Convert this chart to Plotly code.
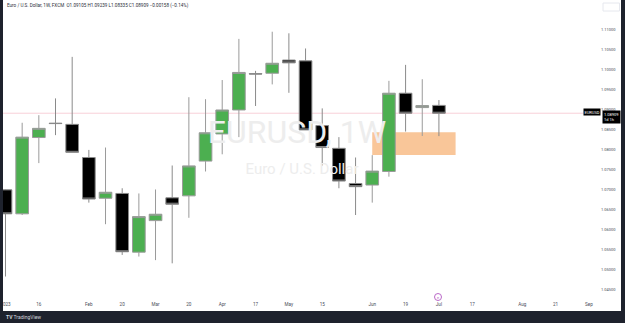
import pandas as pd
import plotly.graph_objects as go

# ---------------- data ----------------
weeks = ["2023-01-02", "2023-01-09", "2023-01-16", "2023-01-23", "2023-01-30",
         "2023-02-06", "2023-02-13", "2023-02-20", "2023-02-27", "2023-03-06",
         "2023-03-13", "2023-03-20", "2023-03-27", "2023-04-03", "2023-04-10",
         "2023-04-17", "2023-04-24", "2023-05-01", "2023-05-08", "2023-05-15",
         "2023-05-22", "2023-05-29", "2023-06-05", "2023-06-12", "2023-06-19",
         "2023-06-26", "2023-07-03"]
open_ = [1.0699, 1.0639, 1.0830, 1.0866, 1.0863, 1.0780, 1.0678, 1.0690, 1.0543, 1.0622,
         1.0679, 1.0684, 1.0771, 1.0839, 1.0899, 1.0990, 1.0991, 1.1024, 1.1022, 1.0860,
         1.0803, 1.0715, 1.0711, 1.0745, 1.0941, 1.0905, 1.09105]
high = [1.0700, 1.0867, 1.0886, 1.0928, 1.1032, 1.0799, 1.0805, 1.0703, 1.0690, 1.0700,
        1.0760, 1.0931, 1.0926, 1.0974, 1.1077, 1.0997, 1.1095, 1.1091, 1.1053, 1.0903,
        1.0831, 1.0780, 1.0786, 1.0972, 1.1012, 1.0976, 1.09239]
low = [1.0482, 1.0636, 1.0766, 1.0836, 1.0793, 1.0667, 1.0613, 1.0536, 1.0532, 1.0523,
       1.0515, 1.0629, 1.0745, 1.0788, 1.0831, 1.0909, 1.0963, 1.0942, 1.0849, 1.0760,
       1.0703, 1.0636, 1.0667, 1.0732, 1.0845, 1.0834, 1.08335]
close = [1.0639, 1.0831, 1.0853, 1.0865, 1.0793, 1.0676, 1.0693, 1.0544, 1.0632, 1.0638,
         1.0663, 1.0759, 1.0842, 1.0899, 1.0993, 1.0989, 1.1016, 1.1017, 1.0849, 1.0805,
         1.0721, 1.0707, 1.0746, 1.0941, 1.0891, 1.0910, 1.08909]

tick_dates = ["2023-01-02", "2023-01-16", "2023-02-06", "2023-02-20", "2023-03-06",
              "2023-03-20", "2023-04-03", "2023-04-17", "2023-05-01", "2023-05-15",
              "2023-06-05", "2023-06-19", "2023-07-03", "2023-07-17", "2023-08-07",
              "2023-08-21", "2023-09-04"]
tick_text = ["2023", "16", "Feb", "20", "Mar", "20", "Apr", "17", "May", "15",
             "Jun", "19", "Jul", "17", "Aug", "21", "Sep"]
price_ticks = [1.045, 1.050, 1.055, 1.060, 1.065, 1.070, 1.075, 1.080, 1.085,
               1.090, 1.095, 1.100, 1.105, 1.110]
price_tick_text = ["%.5f" % v for v in price_ticks]

zone_start, zone_end = "2023-06-05", "2023-07-10"
zone_top, zone_bottom = 1.0843, 1.0786

header = ("Euro / U.S. Dollar, 1W, FXCM  O1.09105 H1.09239 L1.08335 C1.08909 "
          "\u22120.00158 (\u22120.14%)")

# ---------------- layout geometry ----------------
W, H = 625, 323
PX_L, PX_R, PX_T, PX_B = 3, 600, 0, 300
t0 = pd.Timestamp(weeks[0])
WEEK_PX = 16.67
X0_PX = 5.5  # pixel of first candle centre
Y_TOP, Y_BOT = 1.11744, 1.04232


def px_to_x(px):
    return t0 + pd.Timedelta(days=7 * (px - X0_PX) / WEEK_PX)


def px_to_y(py):
    return Y_TOP - (py - PX_T) / (PX_B - PX_T) * (Y_TOP - Y_BOT)


def fy(py):  # paper y from pixel
    return 1 - py / H


def fx(px):
    return px / W


x_range = [px_to_x(PX_L), px_to_x(PX_R)]

fig = go.Figure()

# watermark (drawn first so candles cover it)
fig.add_trace(go.Scatter(
    x=[px_to_x(297), px_to_x(302)], y=[px_to_y(135), px_to_y(170.5)],
    mode="text", text=["EURUSD, 1W", "Euro / U.S. Dollar"],
    textfont=dict(family="Roboto", size=[32, 15], color="#EDEDED"),
    hoverinfo="skip", showlegend=False, cliponaxis=False))

fig.add_trace(go.Candlestick(
    x=weeks, open=open_, high=high, low=low, close=close,
    increasing=dict(line=dict(color="#9A9A9A", width=1), fillcolor="#4CAF50"),
    decreasing=dict(line=dict(color="#8A8A8A", width=1), fillcolor="#000000"),
    whiskerwidth=0, showlegend=False, hoverinfo="skip"))

shapes = [
    # support zone
    dict(type="rect", xref="x", yref="y", x0=zone_start, x1=zone_end,
         y0=zone_bottom, y1=zone_top, fillcolor="#F9C699", line=dict(width=0),
         layer="below"),
    # last price line
    dict(type="line", xref="paper", yref="y", x0=fx(PX_L), x1=fx(583),
         y0=close[-1], y1=close[-1], line=dict(color="#F8D0D8", width=1),
         layer="below"),
    # frame (dark borders)
    dict(type="rect", xref="paper", yref="paper", x0=0, x1=fx(3), y0=0, y1=1,
         fillcolor="#1E222D", line=dict(width=0), layer="above"),
    dict(type="rect", xref="paper", yref="paper", x0=fx(621), x1=1, y0=0, y1=1,
         fillcolor="#1E222D", line=dict(width=0), layer="above"),
    dict(type="rect", xref="paper", yref="paper", x0=0, x1=1, y0=0, y1=fy(311),
         fillcolor="#1E222D", line=dict(width=0), layer="above"),
    # top-right faint button
    dict(type="rect", xref="paper", yref="paper", x0=fx(603), x1=fx(619.5),
         y0=fy(11), y1=fy(3), line=dict(color="#E6E8EE", width=1),
         fillcolor="rgba(0,0,0,0)", layer="above"),
    # event icon
    dict(type="circle", xref="x", yref="paper",
         x0=px_to_x(434.5), x1=px_to_x(441.5), y0=fy(300.5), y1=fy(293.5),
         line=dict(color="#BA68C8", width=1), layer="above"),
]

annotations = [
    dict(xref="paper", yref="paper", x=fx(5), y=fy(6), text=header,
         showarrow=False, xanchor="left", yanchor="middle",
         font=dict(family="Roboto", size=4.6, color="#2A2E39")),
    dict(xref="paper", yref="y", x=fx(601.5), y=close[-1], text="1.08909<br>1d 1h",
         showarrow=False, xanchor="left", yanchor="top", align="left",
         bgcolor="#000000", borderpad=1, yshift=3,
         font=dict(family="Roboto", size=4, color="#FFFFFF")),
    dict(xref="paper", yref="y", x=fx(600.5), y=close[-1], text="EURUSD",
         showarrow=False, xanchor="right", yanchor="middle", yshift=1.5,
         bgcolor="#000000", borderpad=0.5,
         font=dict(family="Roboto", size=4, color="#FFFFFF")),
    dict(xref="paper", yref="paper", x=fx(4), y=fy(317), text="<b>TV</b> TradingView",
         showarrow=False, xanchor="left", yanchor="middle",
         font=dict(family="Roboto", size=5, color="#D1D4DC")),
    dict(xref="x", yref="paper", x=px_to_x(438), y=fy(297), text="e",
         showarrow=False, xanchor="center", yanchor="middle",
         font=dict(family="Roboto", size=4, color="#BA68C8")),
]

fig.update_layout(
    template="none",
    width=W, height=H,
    margin=dict(l=0, r=0, t=0, b=0),
    paper_bgcolor="#FFFFFF", plot_bgcolor="#FFFFFF",
    boxgap=0.24, boxgroupgap=0,
    showlegend=False,
    shapes=shapes,
    annotations=annotations,
    xaxis=dict(domain=[fx(PX_L), fx(PX_R)], range=x_range, type="date",
               rangeslider=dict(visible=False), showgrid=False, zeroline=False,
               showline=False, ticks="", tickvals=tick_dates, ticktext=tick_text,
               tickfont=dict(family="Roboto", size=4.6, color="#4A4E59"),
               automargin=False, fixedrange=True),
    yaxis=dict(domain=[fy(PX_B), fy(PX_T)], range=[Y_BOT, Y_TOP], side="right",
               showgrid=False, zeroline=False, showline=False, ticks="",
               tickvals=price_ticks, ticktext=price_tick_text,
               tickfont=dict(family="Roboto", size=4, color="#4A4E59"),
               automargin=False, fixedrange=True),
)

fig.write_html("out.html")
